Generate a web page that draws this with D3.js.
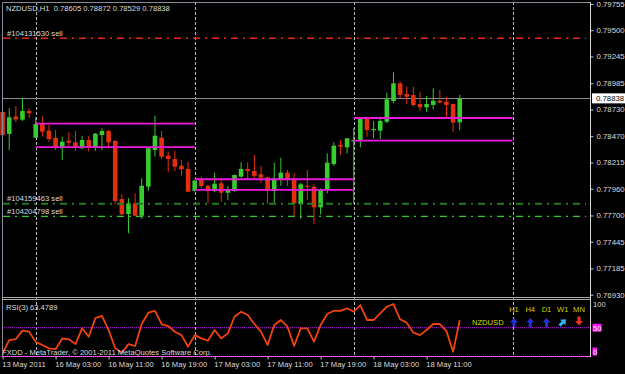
<!DOCTYPE html>
<html>
<head>
<meta charset="utf-8">
<script src="https://cdn.jsdelivr.net/npm/d3@7"></script>
<style>
  html, body { margin: 0; padding: 0; background: #000; }
  svg { display: block; }
  text { font-family: "Liberation Sans", Arial, sans-serif; font-size: 7.6px; }
</style>
</head>
<body>
<div id="chart"></div>
<script>
// ---- data ----
const symbol = "NZDUSD", period = "H1";

// one entry per hourly bar, bar 0 = 13 May 2011 19:00
const opens  = [0.78706,0.78492,0.78662,0.78631,0.78715,0.78456,0.78589,0.78524,0.78456,0.78353,
                0.78427,0.78411,0.78353,0.78433,0.78359,0.78482,0.78521,0.78424,0.77860,0.77714,
                0.77818,0.77698,0.77980,0.78336,0.78456,0.78281,0.78249,0.78184,0.78152,0.77938,
                0.78054,0.77989,0.77938,0.78013,0.77921,0.77938,0.78077,0.78152,0.78132,0.78100,
                0.78071,0.77938,0.78052,0.78116,0.78061,0.77809,0.77989,0.77980,0.77779,0.77948,
                0.78200,0.78385,0.78362,0.78429,0.78427,0.78638,0.78534,0.78524,0.78611,0.78812,
                0.78984,0.78880,0.78871,0.78783,0.78751,0.78774,0.78815,0.78806,0.78783,0.78605];
const highs  = [0.78725,0.78741,0.78764,0.78839,0.78741,0.78654,0.78667,0.78579,0.78531,0.78465,
                0.78514,0.78521,0.78472,0.78472,0.78501,0.78547,0.78531,0.78433,0.77906,0.77867,
                0.77915,0.78061,0.78356,0.78670,0.78521,0.78320,0.78327,0.78239,0.78223,0.78045,
                0.78077,0.77996,0.78116,0.78045,0.77986,0.78098,0.78217,0.78217,0.78288,0.78181,
                0.78074,0.78213,0.78261,0.78142,0.78110,0.78018,0.78142,0.78001,0.77964,0.78304,
                0.78411,0.78433,0.78453,0.78547,0.78642,0.78642,0.78618,0.78660,0.78893,0.79091,
                0.79000,0.78951,0.78951,0.78903,0.78861,0.78936,0.78919,0.78854,0.78788,0.78872];
const lows   = [0.78472,0.78336,0.78608,0.78618,0.78647,0.78453,0.78465,0.78417,0.78336,0.78239,
                0.78368,0.78327,0.78346,0.78320,0.78327,0.78336,0.78353,0.77809,0.77705,0.77527,
                0.77695,0.77666,0.77938,0.78271,0.78249,0.78120,0.78132,0.78086,0.77928,0.77933,
                0.77964,0.77818,0.77925,0.77834,0.77850,0.77931,0.78067,0.78045,0.78067,0.78013,
                0.77809,0.77809,0.77989,0.77986,0.77695,0.77666,0.77850,0.77617,0.77711,0.77915,
                0.78181,0.78288,0.78304,0.77811,0.78362,0.78465,0.78450,0.78443,0.78596,0.78790,
                0.78839,0.78783,0.78757,0.78718,0.78708,0.78732,0.78790,0.78657,0.78514,0.78529];
const closes = [0.78482,0.78654,0.78633,0.78715,0.78693,0.78589,0.78514,0.78443,0.78353,0.78417,
                0.78407,0.78359,0.78433,0.78359,0.78495,0.78521,0.78411,0.77841,0.77711,0.77818,
                0.77698,0.77989,0.78353,0.78475,0.78271,0.78249,0.78174,0.78149,0.77931,0.78038,
                0.77986,0.77938,0.78009,0.77921,0.77954,0.78093,0.78152,0.78132,0.78086,0.78067,
                0.77938,0.78061,0.78116,0.78052,0.77818,0.78003,0.77980,0.77779,0.77954,0.78213,
                0.78378,0.78368,0.78450,0.78433,0.78638,0.78531,0.78540,0.78618,0.78829,0.78984,
                0.78871,0.78854,0.78774,0.78751,0.78783,0.78815,0.78796,0.78774,0.78602,0.78838];

// RSI(3) per bar
const rsi = [5,28,30,45,43,25,19.5,13.5,12,31,
             29.5,21,49,34,67,71,46,13.6,6,21,
             17.7,56.6,76.6,80,56.6,53,43,37,16.4,37,
             31.3,27,46,31.3,40,69.5,78.4,72.5,56.6,43,
             19.5,54.8,63.7,51.8,17.7,49,49,25.3,54.8,74.3,
             80,80,84.4,78.4,90.2,63.7,63.7,75.5,87.2,92,
             65,59,41.2,37,46,56.6,56.6,44,7.6,63.4789];

const timeLabels = ["13 May 2011","16 May 03:00","16 May 11:00","16 May 19:00","17 May 03:00",
                    "17 May 11:00","17 May 19:00","18 May 03:00","18 May 11:00"];
const timeLabelBars = [0,8,16,24,32,40,48,56,64];
const daySeparators = [5,29,53,77];   // bar index of each 00:00

const priceTicks = [0.79755,0.79500,0.79245,0.78985,0.78730,0.78470,0.78215,0.77960,0.77700,0.77445,0.77185,0.76930];
const bid = 0.78838;

// open orders
const orderTickets = ["#104131530","#104159463","#104204798"];
const orderTypes = ["sell","sell","sell"];
const orderPrices = [0.79422,0.77814,0.77692];

// daily levels (magenta)
const levelFrom = [5,29,53], levelTo = [29,53,77];
const levelHigh = [0.78592,0.78052,0.78647];
const levelLow  = [0.78365,0.77948,0.78427];

const rsiLevels = [100,50,0];

// trend dashboard
const dashFrames = ["H1","H4","D1","W1","MN"];
const dashDirs = ["up","up","up","upright","down"];

// ---- layout ----
var W = 625, H = 374,
    left = 2, right = 590,
    mainTop = 2, mainBottom = 297.5,
    subTop = 299.5, subBottom = 356;

var svg = d3.select("#chart").append("svg")
    .attr("width", W)
    .attr("height", H)
    .style("background", "#000");

var bars = opens.map(function (o, i) {
    return { i: i, o: o, h: highs[i], l: lows[i], c: closes[i], r: rsi[i] };
});

var x = d3.scaleLinear().domain([0, 77]).range([2.6, 2.6 + 77 * 6.625]);
var y = d3.scaleLinear().domain([0.76930, 0.79755]).range([294.7, 4]);
var yr = d3.scaleLinear().domain([0, 100]).range([subBottom, subTop]);

var txt = "#dcdcdc";
var font = "Liberation Sans, Arial, sans-serif";

// day separators
svg.append("g").selectAll("line")
    .data(daySeparators)
    .enter().append("line")
    .attr("x1", function (d) { return Math.round(x(d)) + 0.5; })
    .attr("x2", function (d) { return Math.round(x(d)) + 0.5; })
    .attr("y1", mainTop)
    .attr("y2", subBottom)
    .attr("stroke", "#b8b8b8")
    .attr("stroke-dasharray", "3,2");

// bid line
svg.append("line")
    .attr("x1", left).attr("x2", right)
    .attr("y1", Math.round(y(bid)) + 0.5).attr("y2", Math.round(y(bid)) + 0.5)
    .attr("stroke", "#8a8a8a");

// candles
var bull = "#36cc30", bear = "#e2300f";
var cw = 4.6;
var candle = svg.append("g").selectAll("g")
    .data(bars)
    .enter().append("g");

candle.append("line")
    .attr("x1", function (d) { return x(d.i); })
    .attr("x2", function (d) { return x(d.i); })
    .attr("y1", function (d) { return y(d.h); })
    .attr("y2", function (d) { return y(d.l); })
    .attr("stroke", function (d) { return d.c >= d.o ? bull : bear; })
    .attr("stroke-width", 1);

candle.append("rect")
    .attr("x", function (d) { return x(d.i) - cw / 2; })
    .attr("width", cw)
    .attr("y", function (d) { return y(Math.max(d.o, d.c)); })
    .attr("height", function (d) { return Math.max(1.2, Math.abs(y(d.o) - y(d.c))); })
    .attr("fill", function (d) { return d.c >= d.o ? bull : bear; });

// daily magenta levels
var lv = svg.append("g");
levelFrom.forEach(function (f, k) {
    [levelHigh[k], levelLow[k]].forEach(function (p) {
        lv.append("line")
            .attr("x1", x(f)).attr("x2", x(levelTo[k]))
            .attr("y1", y(p)).attr("y2", y(p))
            .attr("stroke", "#ee18dc")
            .attr("stroke-width", 1.8);
    });
});

// order lines + labels
var orderColor = ["#e8280c", "#227a22", "#2bcc2b"];
var orderWidth = [1.5, 1.8, 1.2];
orderPrices.forEach(function (p, k) {
    svg.append("line")
        .attr("x1", left + 1).attr("x2", right - 4)
        .attr("y1", y(p)).attr("y2", y(p))
        .attr("stroke", orderColor[k])
        .attr("stroke-width", orderWidth[k])
        .attr("stroke-dasharray", "7,5,2,5");
    svg.append("text")
        .attr("x", 7)
        .attr("y", y(p) - 2.3)
        .attr("fill", txt)
        .text(orderTickets[k] + " " + orderTypes[k]);
});

// header
var last = bars[bars.length - 1];
svg.append("text")
    .attr("x", 6).attr("y", 11)
    .attr("fill", txt)
    .style("white-space", "pre")
    .text(symbol + "," + period + "  " + [last.o, last.h, last.l, last.c].map(d3.format(".5f")).join(" "));

// RSI pane
var rsiLine = d3.line()
    .x(function (d) { return x(d.i); })
    .y(function (d) { return yr(d.r); });

svg.append("line")
    .attr("x1", left).attr("x2", right)
    .attr("y1", yr(50)).attr("y2", yr(50))
    .attr("stroke", "#c020f0")
    .attr("stroke-dasharray", "1,1");

svg.append("path")
    .datum(bars)
    .attr("fill", "none")
    .attr("stroke", "#f2420e")
    .attr("stroke-width", 1.8)
    .attr("stroke-linejoin", "round")
    .attr("d", rsiLine);

svg.append("text")
    .attr("x", 6).attr("y", 309.5)
    .attr("fill", txt)
    .text("RSI(3) " + d3.format(".4f")(last.r));

svg.append("text")
    .attr("x", 2).attr("y", 355)
    .attr("fill", txt)
    .text("FXDD - MetaTrader, \u00a9 2001-2011 MetaQuotes Software Corp.");

// frame
var frame = svg.append("g").attr("fill", "none");
frame.append("path").attr("d", "M" + (left + 0.5) + "," + subBottom + "V" + (mainTop + 0.5) + "H" + right).attr("stroke", "#8a8a9a");
frame.append("line").attr("x1", left).attr("x2", right).attr("y1", mainBottom).attr("y2", mainBottom).attr("stroke", "#a8a8a8");
frame.append("line").attr("x1", left).attr("x2", right).attr("y1", subTop).attr("y2", subTop).attr("stroke", "#a8a8a8");
frame.append("line").attr("x1", left).attr("x2", right).attr("y1", subBottom + 0.5).attr("y2", subBottom + 0.5).attr("stroke", "#d0d0d0");
frame.append("line").attr("x1", left).attr("x2", right).attr("y1", subBottom + 0.5).attr("y2", subBottom + 0.5).attr("stroke", "#ff30ff").attr("stroke-dasharray", "1,1");
frame.append("line").attr("x1", right + 0.5).attr("x2", right + 0.5).attr("y1", mainTop).attr("y2", subBottom + 1).attr("stroke", "#d8d8d8");

// price axis
var yAxis = svg.append("g")
    .attr("transform", "translate(" + (right + 0.5) + ",0)")
    .call(d3.axisRight(y).tickValues(priceTicks).tickFormat(d3.format(".5f")).tickSize(3).tickPadding(3).tickSizeOuter(0));
yAxis.select(".domain").remove();
yAxis.selectAll("line").attr("stroke", "#c8c8c8");
yAxis.selectAll("text").attr("fill", txt).style("font-size", "7.8px").style("font-family", font);

// current price box
svg.append("rect")
    .attr("x", 592).attr("y", y(bid) - 5)
    .attr("width", 33).attr("height", 10)
    .attr("fill", "#fff");
svg.append("text")
    .attr("x", 596).attr("y", y(bid) + 3)
    .attr("fill", "#000")
    .style("font-size", "7.8px")
    .text(d3.format(".5f")(bid));

// RSI scale labels
rsiLevels.forEach(function (v) {
    var ty = v === 100 ? yr(v) + 7 : (v === 0 ? yr(v) - 1.5 : yr(v) + 3);
    if (v !== 100) {
        svg.append("rect")
            .attr("x", 592.5).attr("y", ty - 7)
            .attr("width", v === 50 ? 9 : 4.5).attr("height", 8)
            .attr("fill", "#ff10ff");
    }
    svg.append("text")
        .attr("x", 593).attr("y", ty)
        .attr("fill", v === 100 ? txt : "#f4f0c0")
        .text(v);
});

// time axis
var xAxis = svg.append("g")
    .attr("transform", "translate(0," + (subBottom + 0.5) + ")")
    .call(d3.axisBottom(x).tickValues(timeLabelBars).tickFormat(function (d, i) { return timeLabels[i]; }).tickSize(3).tickSizeOuter(0));
xAxis.select(".domain").remove();
xAxis.selectAll("line").attr("stroke", "#c8c8c8");
xAxis.selectAll("text")
    .attr("fill", txt)
    .attr("text-anchor", "start")
    .attr("x", -0.8)
    .attr("y", 10.5)
    .attr("dy", null)
    .style("font-size", "7.6px")
    .style("font-family", font);

// trend dashboard
var dx = d3.scalePoint().domain(dashFrames).range([514, 579]);
var dashColor = { up: "#2232d8", upright: "#2cb4f4", down: "#f0321a" };

svg.append("text")
    .attr("x", 472).attr("y", 324.5)
    .attr("fill", "#d8d800")
    .text(symbol);

dashFrames.forEach(function (f, k) {
    var cx = dx(f);
    svg.append("text")
        .attr("x", cx).attr("y", 312)
        .attr("text-anchor", "middle")
        .attr("fill", "#d0d000")
        .text(f);
    var arrow = "M-4,0L0,-4.5L4,0H1.5V4.5H-1.5V0Z";
    var rot = dashDirs[k] === "up" ? 0 : (dashDirs[k] === "upright" ? 45 : 180);
    var cy = dashDirs[k] === "down" ? 321 : 322.5;
    svg.append("path")
        .attr("d", arrow)
        .attr("transform", "translate(" + cx + "," + cy + ") rotate(" + rot + ")")
        .attr("fill", dashColor[dashDirs[k]]);
});
</script>
</body>
</html>
